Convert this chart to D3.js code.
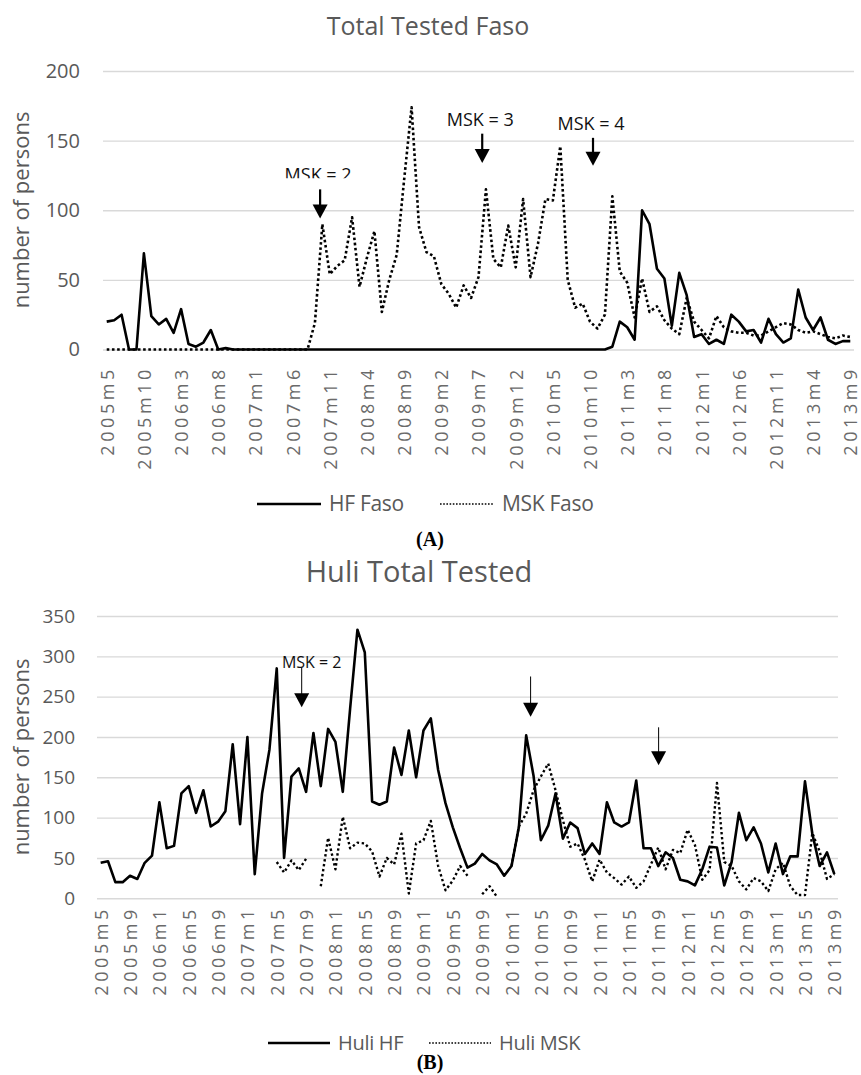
<!DOCTYPE html>
<html>
<head>
<meta charset="utf-8">
<script src="https://cdn.jsdelivr.net/npm/d3@7/dist/d3.min.js"></script>
<style>
  body { margin: 0; background: #fff; }
  text { font-family: "Open Sans", sans-serif; }
</style>
</head>
<body>
<svg id="chart" width="861" height="1075"></svg>
<script>
// monthly categories, 2005m5 .. 2013m9
var START_YEAR = 2005, START_MONTH = 5, N_MONTHS = 101;
var months = [];
for (var k = 0; k < N_MONTHS; k++) {
  var m = START_MONTH - 1 + k;
  months.push((START_YEAR + Math.floor(m / 12)) + 'm' + (m % 12 + 1));
}

// tick labels shown on each x axis
var ticksFaso = ['2005m5','2005m10','2006m3','2006m8','2007m1','2007m6','2007m11','2008m4','2008m9',
  '2009m2','2009m7','2009m12','2010m5','2010m10','2011m3','2011m8','2012m1','2012m6','2012m11','2013m4','2013m9'];
var ticksHuli = ['2005m5','2005m9','2006m1','2006m5','2006m9','2007m1','2007m5','2007m9','2008m1','2008m5',
  '2008m9','2009m1','2009m5','2009m9','2010m1','2010m5','2010m9','2011m1','2011m5','2011m9','2012m1',
  '2012m5','2012m9','2013m1','2013m5','2013m9'];

// (A) Faso
var hfFaso = [20,21,25,0,0,69,24,18,22,12,29,4,2,5,14,0,1,
  0,0,0,0,0,0,0,0,0,0,0,0,0,0,0,0,0,0,0,0,0,0,0,0,0,0,0,0,0,0,0,0,0,0,0,0,0,0,0,0,0,0,0,0,0,0,0,0,0,0,0,
  2,20,16,7,100,90,58,51,17,55,39,9,11,4,7,4,25,20,13,14,5,22,11,5,8,43,23,14,23,7,4,6,6];
var mskFaso = [0,0,0,0,0,0,0,0,0,0,0,0,0,0,0,0,0,0,0,0,0,0,0,0,0,0,0,0,
  19,90,54,60,64,95,45,66,85,27,50,68,122,174,88,70,67,47,40,30,46,37,52,115,65,59,89,59,108,52,76,108,
  107,146,50,30,33,20,15,25,110,56,48,23,51,27,31,21,15,11,37,20,14,8,24,16,13,12,12,10,10,13,16,19,18,
  14,12,13,11,9,8,10,9];

// (B) Huli
var huliHF = [44,46,20,20,28,24,44,53,119,62,
  65,130,139,106,134,89,95,108,191,92,
  200,30,130,184,285,50,151,161,132,205,
  139,210,194,132,235,333,305,120,116,120,
  187,153,208,150,208,223,159,118,88,62,
  38,43,55,47,42,28,40,88,202,152,
  72,90,130,74,94,87,55,68,55,119,
  94,89,94,146,62,62,40,57,50,23,
  21,16,36,64,63,16,45,106,72,88,
  68,32,68,30,52,52,145,80,40,57,
  30];
var huliMSK = [null,null,null,null,null,null,null,null,null,null,null,null,
  null,null,null,null,null,null,null,null,null,null,null,null,
  45,32,47,35,49,null,15,75,36,101,62,69,68,58,27,50,42,80,6,68,72,96,40,10,22,40,28,null,5,15,2,null,
  40,89,105,134,151,167,134,97,64,68,48,21,48,32,25,17,27,13,21,42,63,36,60,56,85,66,23,35,143,45,40,
  21,11,25,21,9,36,44,15,4,4,81,58,24,30];

// arrows: month position (fractional), arrow top and tip in data units
var notesFaso = [
  { label: 'MSK = 2', pos: 28.7, top: 115, tip: 94, clip: true },
  { label: 'MSK = 3', pos: 50.5, top: 155, tip: 134 },
  { label: 'MSK = 4', pos: 65.4, top: 152, tip: 132 }
];
var notesHuli = [
  { label: 'MSK = 2', pos: 27.4, top: 286, tip: 237 },
  { label: '', pos: 58.6, top: 275, tip: 225 },
  { label: '', pos: 76.05, top: 212, tip: 165 }
];

var svg = d3.select('#chart');
var GREY = '#595959';

function drawPanel(p) {
  var g = svg.append('g');
  var x = d3.scaleLinear().domain([-0.5, N_MONTHS - 0.5]).range([p.left, p.right]);
  var y = d3.scaleLinear().domain([0, p.ymax]).range([p.bottom, p.top]);

  // title
  g.append('text').attr('x', p.titleX).attr('y', p.titleY)
    .attr('text-anchor', 'middle').attr('fill', GREY)
    .style('font-size', p.titleSize + 'px').text(p.title);

  // gridlines + y labels
  var yAxis = g.append('g').attr('transform', 'translate(' + p.left + ',0)')
    .call(d3.axisLeft(y).tickValues(d3.range(0, p.ymax + 1, 50))
      .tickSize(-(p.right - p.left)).tickPadding(p.left - p.yLabelRight));
  yAxis.select('.domain').remove();
  yAxis.selectAll('line').attr('stroke', '#d9d9d9').attr('stroke-width', 1.4);
  yAxis.selectAll('text').attr('fill', GREY).style('font-size', p.yTickSize + 'px');

  g.append('text')
    .attr('transform', 'translate(' + p.yTitleX + ',' + p.yTitleY + ') rotate(-90)')
    .attr('text-anchor', 'middle').attr('fill', GREY)
    .style('font-size', p.yTitleSize + 'px').text('number of persons');

  // x labels
  var xAxis = g.append('g').attr('transform', 'translate(0,' + p.bottom + ')')
    .call(d3.axisBottom(x).tickValues(p.ticks.map(function(t) { return months.indexOf(t); }))
      .tickFormat(function(i) { return months[i]; }).tickSize(0));
  xAxis.select('.domain').remove();
  xAxis.selectAll('text')
    .attr('transform', 'rotate(-90)')
    .attr('text-anchor', 'end')
    .attr('x', -(p.xLabelTop - p.bottom)).attr('y', 0).attr('dy', '0.36em')
    .attr('fill', '#6a6a6a')
    .style('font-size', p.xTickSize + 'px')
    .style('letter-spacing', p.xTickSpacing + 'px');

  // series
  var line = d3.line()
    .defined(function(d) { return d != null; })
    .x(function(d, i) { return x(i); })
    .y(function(d) { return y(d); });

  p.series.forEach(function(s) {
    g.append('path').datum(s.values)
      .attr('fill', 'none').attr('stroke', '#000')
      .attr('stroke-width', s.width)
      .attr('stroke-linejoin', 'round')
      .attr('stroke-dasharray', s.dash || null)
      .attr('d', line);
  });

  // arrows
  p.notes.forEach(function(n, k) {
    var ax = x(n.pos), yTop = y(n.top), yTip = y(n.tip);
    var hh = p.headH, hw = p.headW;
    g.append('line').attr('x1', ax).attr('x2', ax).attr('y1', yTop).attr('y2', yTip - hh + 1)
      .attr('stroke', '#000').attr('stroke-width', p.arrowWidth);
    g.append('path')
      .attr('d', 'M' + (ax - hw / 2) + ',' + (yTip - hh) + 'L' + (ax + hw / 2) + ',' + (yTip - hh) + 'L' + ax + ',' + yTip + 'Z')
      .attr('fill', '#000');
    if (n.label) {
      var t = g.append('text').attr('x', ax + p.noteDx).attr('y', yTop + p.noteDy)
        .attr('text-anchor', 'middle').attr('fill', '#111')
        .style('font-size', p.noteSize + 'px').text(n.label);
      if (n.clip) {
        var id = 'clip' + k + p.id;
        svg.append('clipPath').attr('id', id).append('rect')
          .attr('x', ax - 60).attr('y', yTop - 40).attr('width', 120).attr('height', 29);
        t.attr('clip-path', 'url(#' + id + ')');
      }
    }
  });

  // legend
  var lg = g.append('g').attr('transform', 'translate(0,' + p.legendY + ')');
  p.series.forEach(function(s, k) {
    var lx = p.legendX[k], len = p.legendLine[k];
    lg.append('line').attr('x1', lx).attr('x2', lx + len).attr('y1', 0).attr('y2', 0)
      .attr('stroke', '#000').attr('stroke-width', s.dash ? 1.6 : 2.6)
      .attr('stroke-dasharray', s.dash ? '1.6 1.6' : null);
    lg.append('text').attr('x', lx + len + 8).attr('y', 0).attr('dy', '0.35em')
      .attr('fill', GREY).style('font-size', p.legendSize + 'px')
      .style('letter-spacing', '-0.3px').text(s.name);
  });

  // panel letter
  svg.append('text').attr('x', p.letterX).attr('y', p.letterY)
    .attr('text-anchor', 'middle')
    .style('font-family', '"Liberation Serif", serif').style('font-weight', 'bold')
    .style('font-size', '20px').text(p.letter);
}

drawPanel({
  id: 'A', title: 'Total Tested Faso', titleX: 428, titleY: 35, titleSize: 25,
  left: 103, right: 854, top: 71, bottom: 349.5, ymax: 200,
  yLabelRight: 80, yTickSize: 20, yTitleX: 29, yTitleY: 210, yTitleSize: 22,
  ticks: ticksFaso, xLabelTop: 366, xTickSize: 18, xTickSpacing: 3.6,
  series: [
    { name: 'HF Faso', values: hfFaso, width: 2.6 },
    { name: 'MSK Faso', values: mskFaso, width: 2.6, dash: '2.6 2.6' }
  ],
  notes: notesFaso, headH: 14, headW: 15, arrowWidth: 2.2, noteSize: 18, noteDx: -2, noteDy: -8,
  legendY: 504, legendX: [257, 440], legendLine: [64, 54], legendSize: 21,
  letter: '(A)', letterX: 430, letterY: 546
});

drawPanel({
  id: 'B', title: 'Huli Total Tested', titleX: 419, titleY: 582, titleSize: 29,
  left: 97, right: 838, top: 616, bottom: 898.3, ymax: 350,
  yLabelRight: 75, yTickSize: 19, yTitleX: 29, yTitleY: 757, yTitleSize: 22,
  ticks: ticksHuli, xLabelTop: 906, xTickSize: 18, xTickSpacing: 3.6,
  series: [
    { name: 'Huli HF', values: huliHF, width: 2.6 },
    { name: 'Huli MSK', values: huliMSK, width: 2.4, dash: '2.4 2.6' }
  ],
  notes: notesHuli, headH: 14, headW: 15, arrowWidth: 1, noteSize: 16, noteDx: 10, noteDy: 0,
  legendY: 1043, legendX: [268, 429], legendLine: [62, 62], legendSize: 20,
  letter: '(B)', letterX: 430, letterY: 1069
});
</script>
</body>
</html>
